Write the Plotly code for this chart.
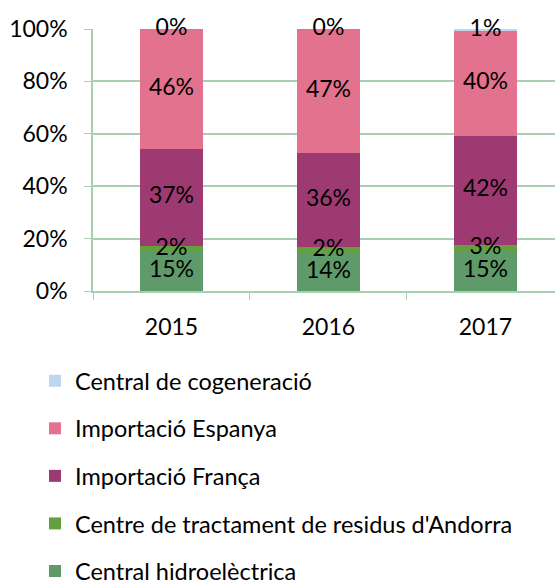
import numpy as np
import plotly.graph_objects as go

years = ["2015", "2016", "2017"]
series_names = [
    "Central hidroelèctrica",
    "Centre de tractament de residus d'Andorra",
    "Importació França",
    "Importació Espanya",
    "Central de cogeneració",
]
hidro = [14.9, 14.4, 14.8]
residus = [2.4, 2.4, 2.8]
franca = [36.8, 36.0, 41.6]
espanya = [45.9, 47.2, 40.0]
cogeneracio = [0.0, 0.0, 0.8]
y_ticks = [0, 20, 40, 60, 80, 100]
y_tick_labels = ["0%", "20%", "40%", "60%", "80%", "100%"]

colors = ["#5e9a6a", "#64a040", "#9e3a72", "#e2728e", "#bdd7ee"]
values = [hidro, residus, franca, espanya, cogeneracio]

FONT = "Lato"
GRID = "#a8cfb0"

fig = go.Figure()
base = np.zeros(len(years))
n = len(series_names)
for i, (name, vals, col) in enumerate(zip(series_names, values, colors)):
    v = np.array(vals, dtype=float)
    fig.add_trace(go.Bar(
        x=years, y=v, name=name, marker=dict(color=col, line=dict(width=0)),
        width=0.4, legendgroup=name, legendrank=n - i,
    ))
    fig.add_trace(go.Scatter(
        x=years, y=base + v / 2, mode="text",
        text=[f"{round(t):.0f}%" for t in v],
        textfont=dict(family=FONT, size=23, color="#000000"),
        showlegend=False, hoverinfo="skip", cliponaxis=False,
        legendgroup=name,
    ))
    base = base + v

fig.update_layout(
    barmode="stack",
    width=555, height=582,
    margin=dict(l=93, r=0, t=29, b=291, autoexpand=False),
    paper_bgcolor="white", plot_bgcolor="white",
    font=dict(family=FONT, size=23, color="#000000"),
    legend=dict(
        traceorder="grouped", tracegroupgap=14,
        xref="container", yref="container",
        x=35 / 555, xanchor="left", y=1 - 359 / 582, yanchor="top",
        font=dict(family=FONT, size=23.5, color="#000000"),
        itemwidth=30,
    ),
    showlegend=True,
)
fig.update_xaxes(
    type="category", range=[-0.5, 2.443],
    showline=True, linecolor=GRID, linewidth=1.5,
    ticks="outside", tickson="boundaries", ticklen=7, tickcolor=GRID,
    showgrid=False, ticklabelstandoff=15,
)
fig.update_yaxes(
    range=[0, 100], tickvals=y_ticks, ticktext=y_tick_labels,
    showgrid=True, gridcolor=GRID, gridwidth=1.5,
    showline=True, linecolor=GRID, linewidth=1.5,
    ticks="outside", ticklen=7, tickcolor=GRID,
    zeroline=False, ticklabelstandoff=12,
)

fig.write_html(
    "out.html",
    config={"displayModeBar": False},
    post_script="document.body.style.margin='0';document.body.style.padding='0';",
)
